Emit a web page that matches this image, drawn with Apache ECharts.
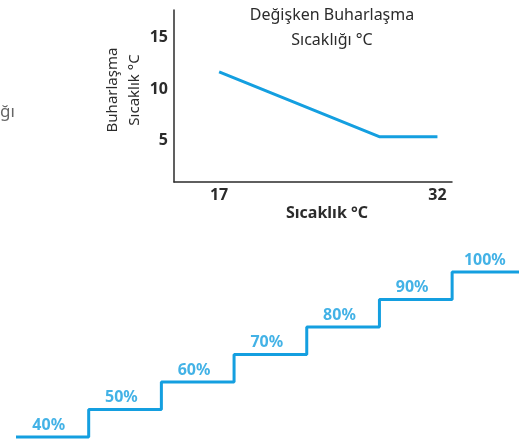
<!DOCTYPE html>
<html>
<head>
<meta charset="utf-8">
<script src="https://cdn.jsdelivr.net/npm/echarts@6/dist/echarts.min.js"></script>
<style>html,body{margin:0;padding:0;background:#fff}#main{width:519px;height:444px}</style>
</head>
<body>
<div id="main"></div>
<script>
// top chart: evaporation temperature vs ambient temperature
var tempX = [17, 28, 32];
var evapY = [11.7, 5.4, 5.4];
var xTicks = [17, 32];
var yTicks = [5, 10, 15];

// bottom staircase
var stepLabels = ['40%', '50%', '60%', '70%', '80%', '90%', '100%'];
var stepValues = [40, 50, 60, 70, 80, 90, 100];

var blue = '#149fe0';
var dark = '#2b2b2b';
var font = '"Noto Sans", sans-serif';

var linePoints = tempX.map(function (x, i) { return [x, evapY[i]]; });

var stairPoints = stepValues.map(function (v, i) { return [i, v]; });
stairPoints.push([stepValues.length, stepValues[stepValues.length - 1]]);
var stairLabels = stepValues.map(function (v, i) { return { value: [i + 0.45, v], name: stepLabels[i] }; });

var myChart = echarts.init(document.getElementById('main'));

var option = {
    animation: false,
    textStyle: { fontFamily: font },
    grid: [
        { left: 174, top: 10, width: 278, height: 172 },
        { left: 16, top: 272, width: 503, height: 165 }
    ],
    xAxis: [
        {
            gridIndex: 0, type: 'value', min: 13.9, max: 33,
            splitLine: { show: false },
            axisTick: { show: false },
            axisLine: { lineStyle: { color: dark, width: 1.5 } },
            axisLabel: { customValues: xTicks, color: dark, fontWeight: 'bold', fontSize: 16, margin: 5 }
        },
        { gridIndex: 1, type: 'value', min: 0, max: 6.92, show: false }
    ],
    yAxis: [
        {
            gridIndex: 0, type: 'value', min: 1, max: 17.7,
            splitLine: { show: false },
            axisTick: { show: false },
            axisLine: { show: true, lineStyle: { color: dark, width: 1.5 } },
            axisLabel: { customValues: yTicks, color: dark, fontWeight: 'bold', fontSize: 16, margin: 6 }
        },
        { gridIndex: 1, type: 'value', min: 40, max: 100, show: false }
    ],
    graphic: [
        {
            type: 'text', x: 332, y: 3,
            style: { text: 'Değişken Buharlaşma\nSıcaklığı °C', align: 'center', verticalAlign: 'top', fill: dark, fontSize: 16, fontFamily: font, lineHeight: 25 }
        },
        {
            type: 'text', x: 124, y: 90, rotation: Math.PI / 2,
            style: { text: 'Buharlaşma\nSıcaklık °C', align: 'center', verticalAlign: 'middle', fill: dark, fontSize: 15, fontFamily: font, lineHeight: 22 }
        },
        {
            type: 'text', x: 327, y: 213,
            style: { text: 'Sıcaklık °C', align: 'center', verticalAlign: 'middle', fill: dark, fontSize: 16, fontWeight: 'bold', fontFamily: font }
        },
        {
            type: 'text', x: 0, y: 112,
            style: { text: 'ğı', align: 'left', verticalAlign: 'middle', fill: '#666', fontSize: 17, fontFamily: font }
        }
    ],
    series: [
        {
            type: 'line', xAxisIndex: 0, yAxisIndex: 0,
            data: linePoints, symbol: 'none',
            lineStyle: { color: blue, width: 3 }
        },
        {
            type: 'line', xAxisIndex: 1, yAxisIndex: 1,
            data: stairPoints, step: 'end', symbol: 'none', clip: false,
            lineStyle: { color: blue, width: 3 }
        },
        {
            type: 'scatter', xAxisIndex: 1, yAxisIndex: 1,
            data: stairLabels, symbolSize: 0,
            label: {
                show: true, position: 'top', distance: 4,
                formatter: '{b}', color: blue, fontWeight: 'bold', fontSize: 16
            }
        }
    ]
};

myChart.setOption(option);
</script>
</body>
</html>
